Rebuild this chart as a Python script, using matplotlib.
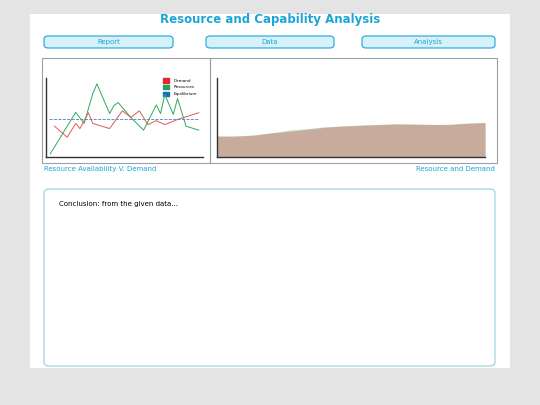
import matplotlib.pyplot as plt
from matplotlib.patches import FancyBboxPatch, Rectangle

BLUE = "#1ba6d6"

# left chart data
green_x = [0, 6, 8, 10, 11, 14, 15, 16, 19, 22, 25, 26, 27, 29, 30, 32, 35]
green_y = [8, 113, 85, 160, 185, 110, 130, 138, 100, 68, 132, 110, 158, 108, 148, 78, 68]
red_x = [1, 4, 6, 7, 9, 10, 14, 17, 19, 21, 23, 25, 27, 30, 35]
red_y = [78, 50, 85, 72, 112, 85, 72, 117, 100, 117, 82, 92, 82, 95, 112]
equil_y = 96

# right chart data
area_x = list(range(16))
demand = [62, 62, 64, 72, 76, 82, 88, 92, 94, 96, 98, 98, 97, 96, 100, 102]
resources = [62, 62, 66, 70, 80, 84, 90, 92, 95, 97, 99, 97, 96, 98, 101, 103]

fig = plt.figure(figsize=(5.4, 4.05), dpi=100)
fig.patch.set_facecolor("#e4e4e4")
W, H = 540, 405

def fx(x): return x / W
def fy(y): return 1 - y / H

fig.patches.append(Rectangle((fx(30), fy(368)), 480 / W, 354 / H, zorder=-5,
                             transform=fig.transFigure, facecolor="white", edgecolor="none"))
fig.text(0.5, fy(20), "Resource and Capability Analysis", ha="center", va="center",
         color=BLUE, fontsize=8.5, fontweight="bold")

for x0, x1, lab in [(44, 173, "Report"), (206, 334, "Data"), (362, 495, "Analysis")]:
    fig.patches.append(FancyBboxPatch((fx(x0), fy(48)), (x1 - x0) / W, 12 / H,
                                      boxstyle="round,pad=0,rounding_size=0.008",
                                      transform=fig.transFigure, facecolor="#d6f1fa",
                                      edgecolor=BLUE, linewidth=0.8))
    fig.text(fx((x0 + x1) / 2), fy(42), lab, ha="center", va="center", color=BLUE, fontsize=5)

# panels
for x0, x1 in [(42, 210), (210, 497)]:
    fig.patches.append(Rectangle((fx(x0), fy(163)), (x1 - x0) / W, 105 / H,
                                 transform=fig.transFigure, facecolor="none",
                                 edgecolor="#9aa0aa", linewidth=0.8))

ax1 = fig.add_axes([fx(46), fy(157), 157 / W, 79 / H], zorder=3)
ax1.patch.set_alpha(0)
ax1.plot(green_x, green_y, color="#2eaa5c", lw=0.7, label="Resources")
ax1.plot(red_x, red_y, color="#e05a5a", lw=0.7, label="Demand")
ax1.axhline(equil_y, color="#4a7fc0", lw=0.6, ls="--", xmin=0.02, xmax=0.97)
ax1.set_xlim(-1, 36)
ax1.set_ylim(0, 200)
ax1.set_xticks([]); ax1.set_yticks([])
for s in ["top", "right"]:
    ax1.spines[s].set_visible(False)
for s in ["left", "bottom"]:
    ax1.spines[s].set_color("#333333"); ax1.spines[s].set_linewidth(1)
for i, (c, lab) in enumerate([("#e8262b", "Demand"), ("#21a35a", "Resources"), ("#1a6fb0", "Equilibrium")]):
    ax1.add_patch(Rectangle((26.5, 188 - i * 17), 1.5, 11, color=c, clip_on=False))
    ax1.text(29, 193 - i * 17, lab, fontsize=3, va="center")

ax2 = fig.add_axes([fx(217), fy(157), 268 / W, 79 / H], zorder=3)
ax2.patch.set_alpha(0)
ax2.fill_between(area_x, resources, color="#8fd1a3", alpha=0.6, lw=0)
ax2.fill_between(area_x, demand, color="#c9a89a", alpha=0.95, lw=0)
ax2.set_xlim(0, 15)
ax2.set_ylim(0, 235)
ax2.set_xticks([]); ax2.set_yticks([])
for s in ["top", "right"]:
    ax2.spines[s].set_visible(False)
for s in ["left", "bottom"]:
    ax2.spines[s].set_color("#333333"); ax2.spines[s].set_linewidth(1)

fig.text(fx(44), fy(169), "Resource Availability V. Demand", color=BLUE, fontsize=5, va="center")
fig.text(fx(495), fy(169), "Resource and Demand", color=BLUE, fontsize=5, va="center", ha="right")

fig.patches.append(FancyBboxPatch((fx(44), fy(366)), 451 / W, 177 / H,
                                  boxstyle="round,pad=0,rounding_size=0.01",
                                  transform=fig.transFigure, facecolor="white",
                                  edgecolor="#8fd3d8", linewidth=0.8))
fig.text(fx(59), fy(204), "Conclusion: from the given data...", fontsize=5, va="center")

fig.savefig("out.png", dpi=100, facecolor=fig.get_facecolor())
